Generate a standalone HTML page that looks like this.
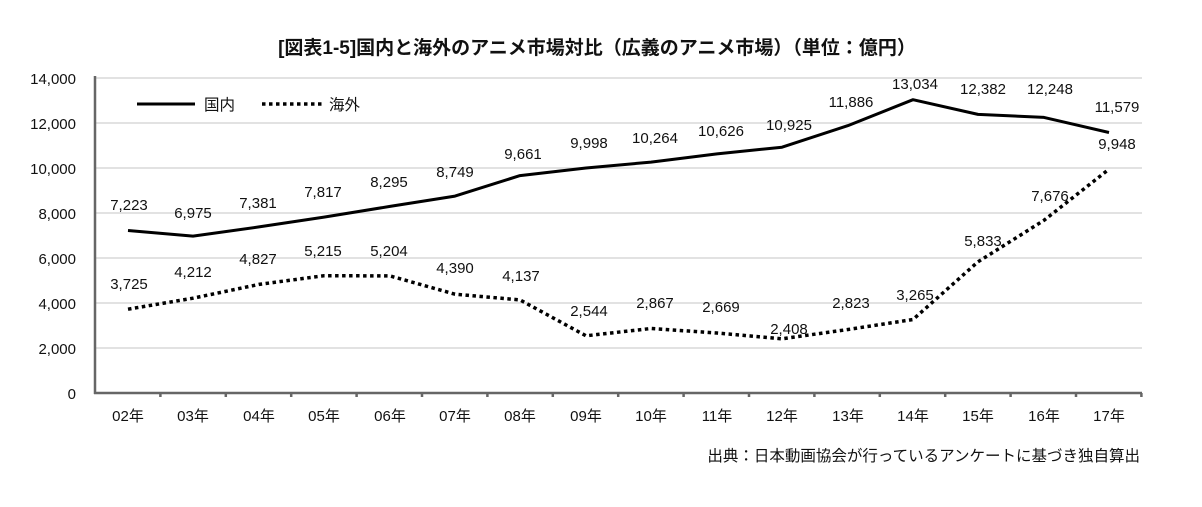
<!DOCTYPE html>
<html><head><meta charset="utf-8"><style>
body{margin:0;background:#fff}
svg text{font-family:"Liberation Sans","Noto Sans CJK JP",sans-serif;fill:#111}
</style></head><body>
<svg width="1202" height="502" xmlns="http://www.w3.org/2000/svg">
<text x="597" y="54" font-size="19" font-weight="bold" text-anchor="middle">[図表1-5]国内と海外のアニメ市場対比（広義のアニメ市場）（単位：億円）</text>
<g stroke="#d9d9d9" stroke-width="1.5">
<line x1="95" x2="1142" y1="78" y2="78"/><line x1="95" x2="1142" y1="123" y2="123"/><line x1="95" x2="1142" y1="168" y2="168"/><line x1="95" x2="1142" y1="213" y2="213"/><line x1="95" x2="1142" y1="258" y2="258"/><line x1="95" x2="1142" y1="303" y2="303"/><line x1="95" x2="1142" y1="348" y2="348"/>
</g>
<g stroke="#666" stroke-width="2.5" fill="none">
<line x1="95" y1="76" x2="95" y2="394"/><line x1="94" y1="393" x2="1142" y2="393"/>
<path d="M160.4 393v4M225.8 393v4M291.2 393v4M356.6 393v4M422 393v4M487.4 393v4M552.8 393v4M618.2 393v4M683.6 393v4M749 393v4M814.4 393v4M879.8 393v4M945.2 393v4M1010.6 393v4M1076 393v4M1141.4 393v4"/>
</g>
<g font-size="15" text-anchor="end">
<text x="76" y="84">14,000</text><text x="76" y="129">12,000</text><text x="76" y="174">10,000</text><text x="76" y="219">8,000</text><text x="76" y="264">6,000</text><text x="76" y="309">4,000</text><text x="76" y="354">2,000</text><text x="76" y="399">0</text>
</g>
<g font-size="15" text-anchor="middle">
<text x="128" y="421">02年</text><text x="193" y="421">03年</text><text x="259" y="421">04年</text><text x="324" y="421">05年</text><text x="390" y="421">06年</text><text x="455" y="421">07年</text><text x="520" y="421">08年</text><text x="586" y="421">09年</text><text x="651" y="421">10年</text><text x="717" y="421">11年</text><text x="782" y="421">12年</text><text x="848" y="421">13年</text><text x="913" y="421">14年</text><text x="978" y="421">15年</text><text x="1044" y="421">16年</text><text x="1109" y="421">17年</text>
</g>
<polyline fill="none" stroke="#000" stroke-width="3" stroke-linejoin="round" points="128,230.5 193,236.1 259,226.9 324,217.1 390,206.4 455,196.1 520,175.6 586,168.0 651,162.1 717,153.9 782,147.2 848,125.6 913,99.7 978,114.4 1044,117.4 1109,132.5"/>
<polyline fill="none" stroke="#000" stroke-width="3.5" stroke-dasharray="3.5 3.5" points="128,309.2 193,298.2 259,284.4 324,275.7 390,275.9 455,294.2 520,299.9 586,335.8 651,328.5 717,333.0 782,338.8 848,329.5 913,319.5 978,261.8 1044,220.3 1109,169.2"/>
<line x1="137" y1="104" x2="195" y2="104" stroke="#000" stroke-width="3"/>
<text x="204" y="110" font-size="15.5">国内</text>
<line x1="262" y1="104" x2="322" y2="104" stroke="#000" stroke-width="3.5" stroke-dasharray="3.5 3.5"/>
<text x="329" y="110" font-size="15.5">海外</text>
<g font-size="15" text-anchor="middle">
<text x="129" y="210">7,223</text><text x="193" y="218">6,975</text><text x="258" y="208">7,381</text><text x="323" y="197">7,817</text><text x="389" y="187">8,295</text><text x="455" y="177">8,749</text><text x="523" y="159">9,661</text><text x="589" y="148">9,998</text><text x="655" y="143">10,264</text><text x="721" y="136">10,626</text><text x="789" y="130">10,925</text><text x="851" y="107">11,886</text><text x="915" y="89">13,034</text><text x="983" y="94">12,382</text><text x="1050" y="94">12,248</text><text x="1117" y="112">11,579</text><text x="1117" y="149">9,948</text>
<text x="129" y="289">3,725</text><text x="193" y="277">4,212</text><text x="258" y="264">4,827</text><text x="323" y="256">5,215</text><text x="389" y="256">5,204</text><text x="455" y="273">4,390</text><text x="521" y="281">4,137</text><text x="589" y="316">2,544</text><text x="655" y="308">2,867</text><text x="721" y="312">2,669</text><text x="789" y="334">2,408</text><text x="851" y="308">2,823</text><text x="915" y="300">3,265</text><text x="983" y="246">5,833</text><text x="1050" y="201">7,676</text>
</g>
<text x="1140" y="461" font-size="15.5" text-anchor="end">出典：日本動画協会が行っているアンケートに基づき独自算出</text>
</svg>
</body></html>
